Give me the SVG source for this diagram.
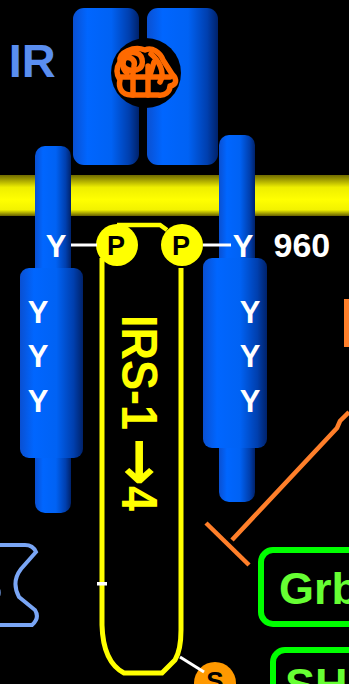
<svg xmlns="http://www.w3.org/2000/svg" width="349" height="684" viewBox="0 0 349 684">
  <defs>
    <linearGradient id="tube" x1="0" y1="0" x2="1" y2="0">
      <stop offset="0" stop-color="#0a50d2"/>
      <stop offset="0.22" stop-color="#0066ff"/>
      <stop offset="0.58" stop-color="#0062f4"/>
      <stop offset="0.85" stop-color="#003fae"/>
      <stop offset="1" stop-color="#00226a"/>
    </linearGradient>
    <linearGradient id="membrane" x1="0" y1="0" x2="0" y2="1">
      <stop offset="0" stop-color="#706b00"/>
      <stop offset="0.3" stop-color="#eeee00"/>
      <stop offset="0.6" stop-color="#ffff00"/>
      <stop offset="0.85" stop-color="#f2f200"/>
      <stop offset="1" stop-color="#665f00"/>
    </linearGradient>
    <style>
      text { font-family: "Liberation Sans", Arial, sans-serif; font-weight: bold; }
      .tube { fill: url(#tube); }
      .y { fill: #ffffff; font-size: 31px; text-anchor: middle; }
      .p { fill: #ffff00; }
      .ptxt { fill: #000000; font-size: 27px; text-anchor: middle; }
      .link { stroke: #ffffff; stroke-width: 3; fill: none; }
      .inhib { stroke: #ff7f2a; stroke-width: 4.5; fill: none; stroke-linecap: butt; }
      .box { fill: none; stroke: #00ff00; stroke-width: 6; }
      .boxtxt { fill: #66ff33; font-size: 45px; }
    </style>
  </defs>

  <rect width="349" height="684" fill="#000000"/>

  <!-- plasma membrane -->
  <rect id="membrane-bar" x="0" y="175" width="349" height="41" fill="url(#membrane)"/>

  <!-- insulin receptor -->
  <g id="ir">
    <text x="8.7" y="77" font-size="47" fill="#5a8ef0">IR</text>
    <rect class="tube" x="73" y="8" width="66" height="157" rx="11"/>
    <rect class="tube" x="147" y="8" width="71" height="157" rx="11"/>
    <rect class="tube" x="35" y="146" width="36" height="367" rx="10"/>
    <rect class="tube" x="219" y="135" width="36" height="367" rx="10"/>
    <rect class="tube" x="20" y="268" width="63" height="190" rx="9"/>
    <rect class="tube" x="203" y="258" width="64" height="190" rx="9"/>
    <circle cx="146" cy="73" r="35" fill="#000000"/>
    <!-- bound insulin -->
    <g fill="none" stroke="#ff6a00" stroke-width="5.5" stroke-linecap="round" stroke-linejoin="round">
      <path d="M120,62 C118,52 134,46 145,50 C152,47 160,52 163,60 L172,74 C178,80 176,85 170,86 C170,92 165,96 158,95 L131,95 C122,95 118,88 120,80 C116,74 116,68 120,62 Z"/>
      <path d="M123,58 C128,50 140,51 142,59 C144,68 137,72 129,70 C123,68 120,63 125,58 C130,56 136,60 134,66"/>
      <path d="M127,54 C122,60 121,68 127,73"/>
      <path d="M120,77 L170,77"/>
      <path d="M133,72 L133,95"/>
      <path d="M148,66 L148,95"/>
      <path d="M151,54 C158,60 166,72 160,82"/>
      <path d="M154,62 L150,75"/>
    </g>
    <text class="y" x="38" y="323">Y</text>
    <text class="y" x="38" y="367">Y</text>
    <text class="y" x="38" y="412">Y</text>
    <text class="y" x="250" y="323">Y</text>
    <text class="y" x="250" y="367">Y</text>
    <text class="y" x="250" y="412">Y</text>
    <text class="y" x="56" y="257">Y</text>
    <text class="y" x="243" y="257">Y</text>
    <text x="273.5" y="257" font-size="34" fill="#ffffff">960</text>
  </g>

  <!-- IRS-1→4 docking protein -->
  <g id="irs">
    <path d="M117,225 L160,225 L167,230" fill="none" stroke="#ffff00" stroke-width="4.5"/>
    <path d="M102,258 L102,625 Q103,662 124,673 L162,673 L175,660 Q181,650 181,630 L181,268" fill="none" stroke="#ffff00" stroke-width="5"/>
    <rect x="97" y="582" width="10" height="3.5" fill="#ffffff"/>
    <text transform="translate(122,315) rotate(90) scale(0.9,1)" font-size="50" fill="#ffff00"><tspan x="0">IRS-1</tspan><tspan x="136" dy="3" font-family="'DejaVu Sans', sans-serif" font-size="64">→</tspan><tspan x="190" dy="-3">4</tspan></text>
  </g>

  <!-- phosphotyrosines -->
  <g id="p-left">
    <circle class="p" cx="117" cy="245" r="21"/>
    <text class="ptxt" x="116" y="255">P</text>
  </g>
  <g id="p-right">
    <circle class="p" cx="182" cy="245" r="21"/>
    <text class="ptxt" x="181" y="255">P</text>
  </g>

  <!-- partial shape on the left edge -->
  <g id="left-shape">
    <path d="M-4,545 L25,545 Q33,545 36,552 L21,569 Q11,582 19,597 L35,610 Q40,618 32,625 L-4,625" fill="none" stroke="#7aa6f5" stroke-width="4"/>
    <text x="-32" y="603" font-size="52" fill="#7aa6f5">S</text>
  </g>

  <g id="grb">
    <rect class="box" x="261" y="550" width="110" height="74" rx="12"/>
    <text class="boxtxt" x="279" y="604">Grb</text>
  </g>

  <g id="sh">
    <rect class="box" x="273" y="650" width="100" height="74" rx="12"/>
    <text class="boxtxt" x="285" y="700">SH</text>
  </g>

  <g id="s-site">
    <circle cx="215" cy="683" r="21" fill="#ff9900"/>
    <text x="215" y="690" font-size="26" fill="#000000" text-anchor="middle">S</text>
  </g>

  <g id="orange-edge">
    <rect x="344" y="299" width="5" height="48" fill="#ff7f2a"/>
  </g>

  <!-- connectors -->
  <g id="connectors">
    <line class="link" x1="71" y1="245" x2="97" y2="245"/>
    <line class="link" x1="203" y1="245" x2="231" y2="245"/>
    <line class="link" x1="180" y1="657" x2="204" y2="672"/>
    <path class="inhib" d="M232,540 L337,428 L340,421 L349,412"/>
    <line class="inhib" x1="206" y1="523" x2="249" y2="565"/>
  </g>
</svg>
